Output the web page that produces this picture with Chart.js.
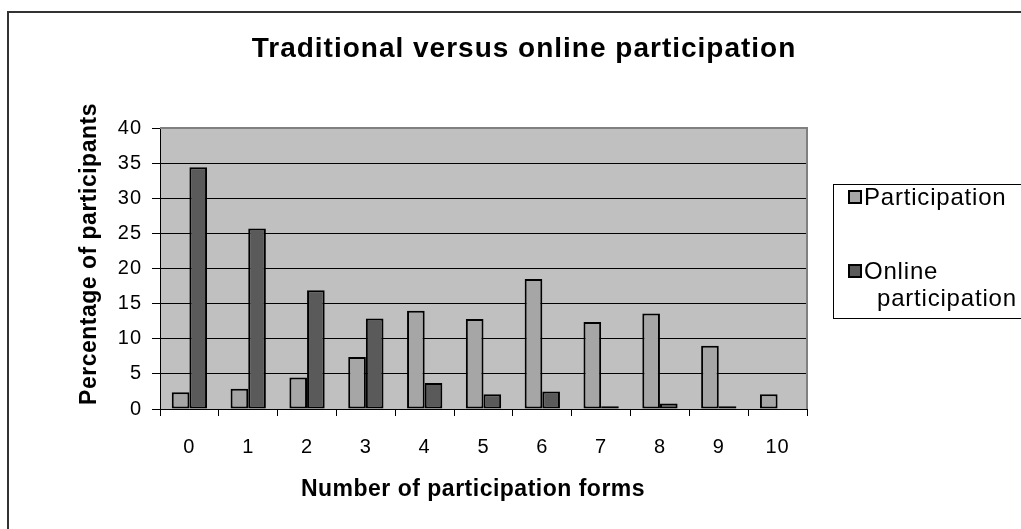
<!DOCTYPE html>
<html>
<head>
<meta charset="utf-8">
<title>Traditional versus online participation</title>
<script src="https://cdn.jsdelivr.net/npm/chart.js@4/dist/chart.umd.min.js"></script>
<style>
  html, body { margin: 0; padding: 0; background: #fff; }
  #wrap { width: 1021px; height: 529px; }
</style>
</head>
<body>
<div id="wrap"><canvas id="chart" width="1021" height="529"></canvas></div>
<script>
// Number of participation forms (x categories)
var forms = ['0', '1', '2', '3', '4', '5', '6', '7', '8', '9', '10'];
// Percentage of participants per number of forms
var participation = [2.4, 2.9, 4.5, 7.4, 14.0, 12.8, 18.5, 12.4, 13.6, 9.0, 2.1];
var onlineParticipation = [34.4, 25.7, 16.9, 12.9, 3.7, 2.1, 2.5, 0.4, 0.8, 0.4, 0];
var yTickValues = [0, 5, 10, 15, 20, 25, 30, 35, 40];

var FONT = '"Liberation Sans", Arial, sans-serif';

// white page, outer frame, grey plot background, titles and legend
var framePlugin = {
    id: 'frame',
    beforeDraw: function(chart) {
        var ctx = chart.ctx;
        var a = chart.chartArea;
        // slightly looser, Excel-like text spacing for the tick labels
        ctx.letterSpacing = '1px';
        ctx.save();
        ctx.fillStyle = '#fff';
        ctx.fillRect(0, 0, chart.width, chart.height);
        ctx.strokeStyle = '#333';
        ctx.lineWidth = 2;
        ctx.beginPath();
        ctx.moveTo(8, chart.height);
        ctx.lineTo(8, 12);
        ctx.lineTo(chart.width, 12);
        ctx.stroke();
        ctx.fillStyle = '#c0c0c0';
        ctx.fillRect(a.left, a.top, a.right - a.left, a.bottom - a.top);
        ctx.restore();
    },
    afterDraw: function(chart) {
        var ctx = chart.ctx;
        var a = chart.chartArea;
        ctx.save();
        // grey border on top and right of the plot area
        ctx.strokeStyle = '#808080';
        ctx.lineWidth = 2;
        ctx.beginPath();
        ctx.moveTo(a.left, a.top);
        ctx.lineTo(a.right, a.top);
        ctx.lineTo(a.right, a.bottom);
        ctx.stroke();

        ctx.fillStyle = '#000';
        ctx.textAlign = 'center';
        ctx.textBaseline = 'alphabetic';

        // chart title
        ctx.letterSpacing = '1px';
        ctx.font = 'bold 28px ' + FONT;
        ctx.fillText('Traditional versus online participation', 524, 57);

        // axis titles
        ctx.letterSpacing = '0.5px';
        ctx.font = 'bold 23px ' + FONT;
        ctx.textBaseline = 'middle';
        ctx.fillText('Number of participation forms', 473, 490);
        ctx.save();
        ctx.translate(90, 254);
        ctx.rotate(-Math.PI / 2);
        ctx.fillText('Percentage of participants', 0, 0);
        ctx.restore();

        // legend box
        ctx.textBaseline = 'alphabetic';
        ctx.textAlign = 'left';
        ctx.strokeStyle = '#000';
        ctx.lineWidth = 1;
        ctx.strokeRect(833.5, 184.5, 200, 134);
        ctx.letterSpacing = '0.8px';
        ctx.font = '24px ' + FONT;
        var ds = chart.data.datasets;
        var rows = [
            { box: 191, lines: ['Participation'], x: [864], y: [205] },
            { box: 265, lines: ['Online', 'participation'], x: [864, 877], y: [279, 306] }
        ];
        rows.forEach(function(r, i) {
            ctx.fillStyle = ds[i].backgroundColor;
            ctx.fillRect(849, r.box, 12, 12);
            ctx.strokeStyle = '#000';
            ctx.lineWidth = 2;
            ctx.strokeRect(849, r.box, 12, 12);
            ctx.fillStyle = '#000';
            r.lines.forEach(function(t, j) {
                ctx.fillText(t, r.x[j], r.y[j]);
            });
        });
        ctx.restore();
    }
};

new Chart(document.getElementById('chart'), {
    type: 'bar',
    data: {
        labels: forms,
        datasets: [
            {
                label: 'Participation',
                data: participation,
                backgroundColor: '#a6a6a6',
                borderColor: '#000',
                borderWidth: 2,
                borderSkipped: false
            },
            {
                label: 'Online participation',
                data: onlineParticipation,
                backgroundColor: '#5a5a5a',
                borderColor: '#000',
                borderWidth: 2,
                borderSkipped: false
            }
        ]
    },
    options: {
        responsive: false,
        animation: false,
        devicePixelRatio: 1,
        layout: { padding: { left: 60, top: 128, right: 214, bottom: 0 } },
        datasets: { bar: { categoryPercentage: 0.6, barPercentage: 1.0 } },
        plugins: {
            legend: { display: false },
            title: { display: false },
            tooltip: { enabled: false }
        },
        scales: {
            x: {
                grid: { offset: true, drawOnChartArea: false, drawTicks: true, tickLength: 7, color: '#000' },
                border: { color: '#000', width: 1 },
                ticks: { color: '#000', font: { family: FONT, size: 20 }, padding: 19, maxRotation: 0 },
                afterFit: function(scale) { scale.height = 120; }
            },
            y: {
                min: 0,
                max: 40,
                afterBuildTicks: function(scale) {
                    scale.ticks = yTickValues.map(function(v) { return { value: v }; });
                },
                grid: { color: '#000', tickLength: 8, lineWidth: 1 },
                border: { color: '#000', width: 1 },
                ticks: { color: '#000', font: { family: FONT, size: 20 }, padding: 10 },
                afterFit: function(scale) { scale.width = 100; }
            }
        }
    },
    plugins: [framePlugin]
});
</script>
</body>
</html>
